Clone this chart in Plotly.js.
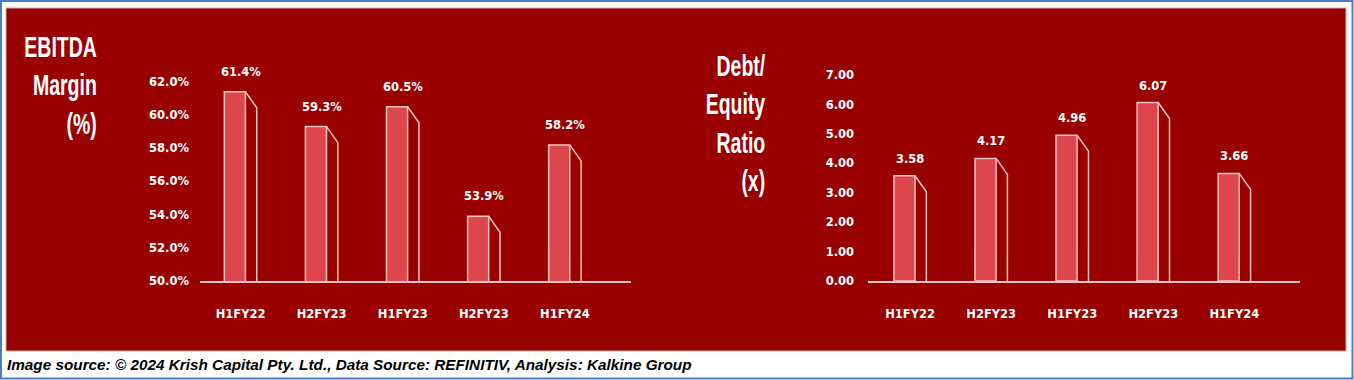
<!DOCTYPE html>
<html><head><meta charset="utf-8">
<script src="https://cdn.plot.ly/plotly-3.0.1.min.js"></script>
<style>
html,body{margin:0;padding:0;background:#fff;}#chart{width:1354px;height:380px;}
.condensed-title{transform-box:fill-box;transform-origin:right center;transform:scaleX(0.66);}
</style>
</head><body><div id="chart"></div>
<script>
// ---- data ----
const categories = ["H1FY22", "H2FY23", "H1FY23", "H2FY23", "H1FY24"];
const ebitdaMargin = [61.4, 59.3, 60.5, 53.9, 58.2];
const debtEquity = [3.58, 4.17, 4.96, 6.07, 3.66];
const leftTitle = "EBITDA<br>Margin<br>(%)";
const rightTitle = "Debt/<br>Equity<br>Ratio<br>(x)";
const caption = "Image source: © 2024 Krish Capital Pty. Ltd., Data Source: REFINITIV, Analysis: Kalkine Group";

// ---- layout helpers (pixel -> paper) ----
const W = 1354, H = 380;
const px = x => x / W;
const py = y => 1 - y / H;

const BG = '#990000';
const EDGE = '#f4c4c4';
const FACE = '#dc464c';
const idx = categories.map((_, i) => i);

const L = {x0: 200, x1: 631, xr: [-0.5, 4.815], yBase: 281, yr: [50, 63], ppu: 16.6};
const R = {x0: 868, x1: 1300, xr: [-0.52, 4.81], yBase: 281, yr: [0, 7.5], ppu: 29.4};
const FRONT_OFF = -0.2, FRONT_W = 0.26, SIDE_W = 0.14, DROP_PX = 16;

function sideTrace(vals, cfg, xa, ya) {
  const xs = [], ys = [];
  const drop = DROP_PX / cfg.ppu;
  vals.forEach((v, i) => {
    const xl = i + FRONT_OFF + FRONT_W, xr = xl + SIDE_W;
    xs.push(xl, xr, xr, null);
    ys.push(v, v - drop, cfg.yr[0], null);
  });
  return {x: xs, y: ys, xaxis: xa, yaxis: ya, type: 'scatter', mode: 'lines',
    line: {color: EDGE, width: 1.5}, hoverinfo: 'skip', showlegend: false, cliponaxis: true};
}
function frontTrace(vals, xa, ya) {
  return {x: idx, y: vals, xaxis: xa, yaxis: ya, type: 'bar', width: FRONT_W, offset: FRONT_OFF,
    marker: {color: FACE, line: {color: EDGE, width: 1.5}}, showlegend: false};
}

const data = [
  frontTrace(ebitdaMargin, 'x', 'y'),
  sideTrace(ebitdaMargin, L, 'x', 'y'),
  frontTrace(debtEquity, 'x2', 'y2'),
  sideTrace(debtEquity, R, 'x2', 'y2')
];

const tickFont = {family: 'DejaVu Sans', size: 11.5, color: '#ffffff', weight: 'bold'};
const xBase = {tickvals: idx, ticktext: categories, ticks: '', showgrid: false, zeroline: false,
  showline: true, linecolor: EDGE, linewidth: 2, tickfont: tickFont, ticklabelstandoff: 21, fixedrange: true};
const yBase = {showgrid: false, zeroline: false, showline: false, ticks: '', tickfont: tickFont, fixedrange: true};

const annotations = [];
ebitdaMargin.forEach((v, i) => annotations.push({x: i, y: v, xref: 'x', yref: 'y', text: v.toFixed(1) + '%',
  showarrow: false, yanchor: 'bottom', yshift: 11, font: tickFont}));
debtEquity.forEach((v, i) => annotations.push({x: i, y: v, xref: 'x2', yref: 'y2', text: v.toFixed(2),
  showarrow: false, yanchor: 'bottom', yshift: 8, font: tickFont}));
const titleFont = {family: 'Liberation Sans, sans-serif', size: 29.5, color: '#ffffff', weight: 'bold'};
annotations.push({xref: 'paper', yref: 'paper', x: px(99), y: py(85), xanchor: 'right', yanchor: 'middle',
  align: 'right', text: leftTitle, showarrow: false, font: titleFont, name: 'lt'});
annotations.push({xref: 'paper', yref: 'paper', x: px(768), y: py(123), xanchor: 'right', yanchor: 'middle',
  align: 'right', text: rightTitle, showarrow: false, font: titleFont, name: 'rt'});
annotations.push({xref: 'paper', yref: 'paper', x: px(5), y: py(364), xanchor: 'left', yanchor: 'middle',
  text: caption, showarrow: false,
  font: {family: 'Liberation Sans, sans-serif', size: 15.3, color: '#000000', weight: 'bold', style: 'italic'}});

const layout = {
  width: W, height: H, margin: {l: 0, r: 0, t: 0, b: 0},
  paper_bgcolor: '#ffffff', plot_bgcolor: 'rgba(0,0,0,0)',
  barmode: 'overlay', showlegend: false,
  xaxis: Object.assign({}, xBase, {domain: [px(L.x0), px(L.x1)], range: L.xr, anchor: 'y'}),
  yaxis: Object.assign({}, yBase, {domain: [py(L.yBase), py(L.yBase - (L.yr[1] - L.yr[0]) * L.ppu)], range: L.yr,
    anchor: 'x', dtick: 2, tickformat: '.1f', ticksuffix: '%', ticklabelstandoff: 10}),
  xaxis2: Object.assign({}, xBase, {domain: [px(R.x0), px(R.x1)], range: R.xr, anchor: 'y2'}),
  yaxis2: Object.assign({}, yBase, {domain: [py(R.yBase), py(R.yBase - (R.yr[1] - R.yr[0]) * R.ppu)], range: R.yr,
    anchor: 'x2', dtick: 1, tickformat: '.2f', ticklabelstandoff: 13}),
  shapes: [
    {type: 'rect', xref: 'paper', yref: 'paper', x0: px(6), x1: px(1346), y0: py(8), y1: py(351),
      fillcolor: BG, line: {color: '#d8a8a8', width: 1}, layer: 'below'},
    {type: 'rect', xref: 'paper', yref: 'paper', x0: px(1), x1: px(1352.5), y0: py(1), y1: py(378.5),
      fillcolor: 'rgba(0,0,0,0)', line: {color: '#4a7cc9', width: 2}, layer: 'below'}
  ],
  annotations: annotations
};

Plotly.newPlot('chart', data, layout, {displayModeBar: false, staticPlot: true}).then(gd => {
  // Condense the two side titles (the original uses a narrow display face)
  gd.querySelectorAll('g.annotation text.annotation-text').forEach(t => {
    const s = t.textContent;
    if (s.indexOf('EBITDA') === 0 || s.indexOf('Debt/') === 0) t.classList.add('condensed-title');
  });
});
</script></body></html>
